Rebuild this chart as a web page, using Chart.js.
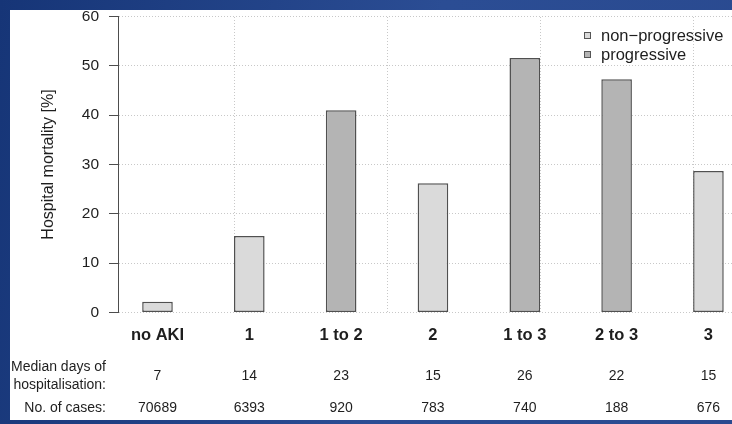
<!DOCTYPE html>
<html>
<head>
<meta charset="utf-8">
<title>Hospital mortality by AKI stage</title>
<script src="https://cdn.jsdelivr.net/npm/chart.js@4/dist/chart.umd.min.js"></script>
<style>
  html, body { margin: 0; padding: 0; }
  body {
    width: 732px; height: 424px; overflow: hidden; position: relative;
    background: linear-gradient(100deg, #163577 0%, #2b4d94 55%, #2a4a90 100%);
  }
  #panel {
    position: absolute; left: 10px; top: 10px; width: 722px; height: 410px;
    background: #ffffff;
  }
  canvas { display: block; }
</style>
</head>
<body>
<div id="panel"><canvas id="chart" width="722" height="410"></canvas></div>
<script>
// AKI stage groups and hospital mortality (%)
const categories = ['no AKI', '1', '1 to 2', '2', '1 to 3', '2 to 3', '3'];
const mortality = [2.2, 15.5, 41.0, 26.2, 51.6, 47.3, 28.7];
const isProgressive = [false, false, true, false, true, true, false];
const medianDays = [7, 14, 23, 15, 26, 22, 15];
const caseCounts = [70689, 6393, 920, 783, 740, 188, 676];
const seriesNames = ['non\u2212progressive', 'progressive'];
const yTicks = [0, 10, 20, 30, 40, 50, 60];
// dotted vertical guides, on the barplot scale where bar i spans 2+3i .. 3+3i
const guideLines = [5, 10, 15, 20];

const FONT = '"Liberation Sans", Arial, Helvetica, sans-serif';
const INK = '#1e1e1e';
const AXIS = '#4d4d4d';
const GRID = '#c8c8c8';
const FILLS = ['#dadada', '#b4b4b4'];

const barCenter = i => 2.5 + 3 * i;
const X_MIN = 1.21, X_MAX = 21.27;

function seriesPoints(progressive) {
  const pts = [];
  categories.forEach((c, i) => {
    if (isProgressive[i] === progressive) pts.push({ x: barCenter(i), y: mortality[i] });
  });
  return pts;
}

const datasets = [false, true].map((prog, k) => ({
  label: seriesNames[k],
  data: seriesPoints(prog),
  backgroundColor: FILLS[k],
  borderColor: '#505050',
  borderWidth: 1.5,
  borderSkipped: false,
  grouped: false,
  categoryPercentage: 1,
  barPercentage: 1 / 3,
  xAxisID: 'x',
  yAxisID: 'y'
}));

// legend box in the upper right of the plot
const cornerLegend = {
  id: 'cornerLegend',
  afterDraw(chart) {
    const { ctx, chartArea } = chart;
    const left = chartArea.right - 148;
    const rows = [chartArea.top + 19, chartArea.top + 38];
    ctx.save();
    ctx.font = '16.5px ' + FONT;
    ctx.textBaseline = 'middle';
    ctx.textAlign = 'left';
    chart.data.datasets.forEach((ds, k) => {
      const cy = rows[k];
      ctx.fillStyle = ds.backgroundColor;
      ctx.fillRect(left, cy - 3.5, 7, 7);
      ctx.strokeStyle = '#555555';
      ctx.lineWidth = 1;
      ctx.strokeRect(left + 0.5, cy - 3, 6, 6);
      ctx.fillStyle = INK;
      ctx.fillText(ds.label, left + 17, cy + 1);
    });
    ctx.restore();
  }
};

// table of median stay and case counts under each bar
const caseTable = {
  id: 'caseTable',
  afterDraw(chart) {
    const { ctx } = chart;
    const xs = chart.scales.x;
    const headRight = 96;
    const rowDays = 366, rowCases = 398;
    ctx.save();
    ctx.fillStyle = INK;
    ctx.font = '14px ' + FONT;
    ctx.textBaseline = 'middle';
    ctx.textAlign = 'right';
    ctx.fillText('Median days of', headRight, rowDays - 9);
    ctx.fillText('hospitalisation:', headRight, rowDays + 9);
    ctx.fillText('No. of cases:', headRight, rowCases);
    ctx.textAlign = 'center';
    categories.forEach((c, i) => {
      const px = xs.getPixelForValue(barCenter(i));
      ctx.fillText(String(medianDays[i]), px, rowDays);
      ctx.fillText(String(caseCounts[i]), px, rowCases);
    });
    ctx.restore();
  }
};

new Chart(document.getElementById('chart'), {
  type: 'bar',
  data: { datasets },
  plugins: [cornerLegend, caseTable],
  options: {
    responsive: false,
    animation: false,
    devicePixelRatio: 1,
    layout: { padding: { top: 6.5, right: 0, bottom: 0, left: 0 } },
    plugins: { legend: { display: false }, tooltip: { enabled: false } },
    scales: {
      x: {
        type: 'linear',
        position: 'bottom',
        offset: false,
        min: X_MIN,
        max: X_MAX,
        afterBuildTicks: axis => { axis.ticks = categories.map((c, i) => ({ value: barCenter(i) })); },
        afterFit: axis => { axis.height = 107.5; axis.paddingLeft = 0; axis.paddingRight = 0; },
        grid: { display: false, offset: false },
        border: { display: false },
        ticks: {
          autoSkip: false,
          maxRotation: 0,
          padding: 5,
          color: INK,
          font: { family: FONT, size: 16.5, weight: 'bold' },
          callback: (v, i) => categories[i]
        }
      },
      xGuide: {
        type: 'linear',
        position: 'top',
        offset: false,
        min: X_MIN,
        max: X_MAX,
        afterBuildTicks: axis => { axis.ticks = guideLines.map(v => ({ value: v })); },
        afterFit: axis => { axis.height = 0; },
        grid: { color: GRID, lineWidth: 1, drawTicks: false, offset: false },
        border: { display: false, dash: [1, 2] },
        ticks: { display: false }
      },
      y: {
        type: 'linear',
        position: 'left',
        min: 0,
        max: 60,
        afterBuildTicks: axis => { axis.ticks = yTicks.map(v => ({ value: v })); },
        afterFit: axis => { axis.width = 108; axis.paddingTop = 0; axis.paddingBottom = 0; },
        grid: {
          color: GRID, lineWidth: 1,
          drawTicks: true, tickLength: 9, tickColor: AXIS, tickWidth: 1, tickBorderDash: []
        },
        border: { display: true, color: AXIS, width: 1, dash: [1, 2] },
        ticks: {
          padding: 10,
          color: INK,
          font: { family: FONT, size: 15.5 }
        },
        title: {
          display: true,
          text: 'Hospital mortality [%]',
          color: INK,
          font: { family: FONT, size: 16 },
          padding: { top: 29, bottom: 0 }
        }
      }
    }
  }
});
</script>
</body>
</html>
